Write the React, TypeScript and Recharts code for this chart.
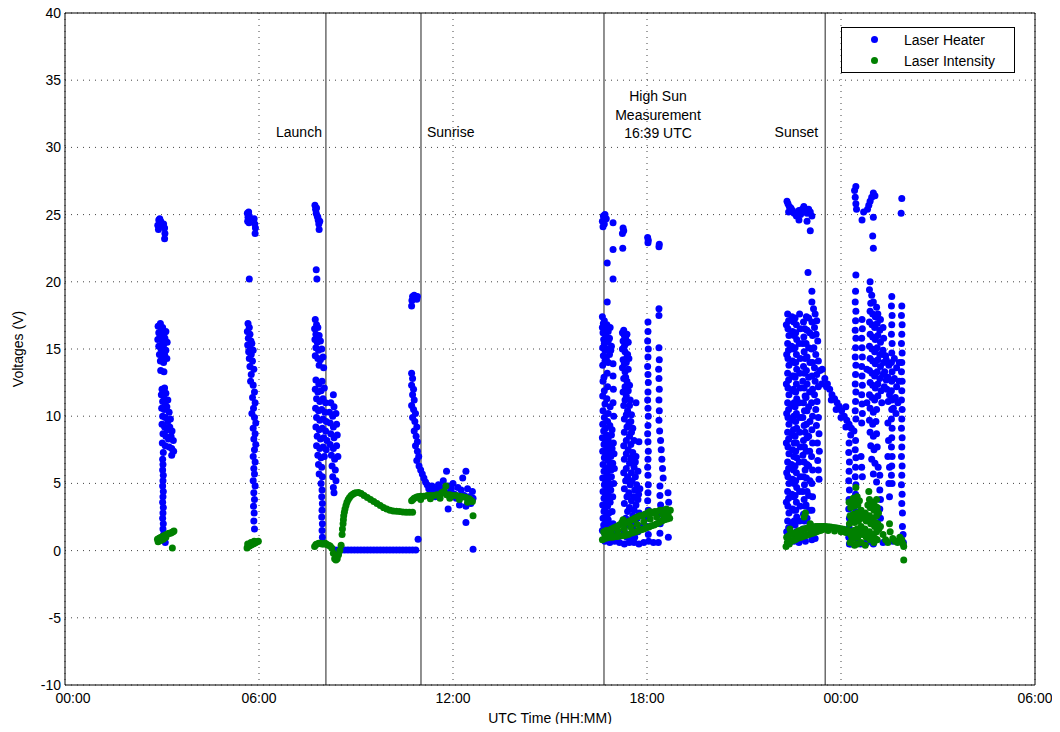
import React from 'react'
import {
  ScatterChart,
  Scatter,
  XAxis,
  YAxis,
  CartesianGrid,
  ReferenceLine,
  Legend
} from 'recharts'

const FONT = '"Liberation Sans", Arial, Helvetica, sans-serif'
const BLUE = '#0000ff'
const GREEN = '#008000'

// axis ticks (hours since 00:00 UTC, volts)
const xTicks = [0, 6, 12, 18, 24, 30]
const yTicks = [-10, -5, 0, 5, 10, 15, 20, 25, 30, 35, 40]

// event markers
const eventTimes = [8.07, 11.01, 16.67, 23.51]
const eventNames = [['Launch'], ['Sunrise'], ['High Sun', 'Measurement', '16:39 UTC'], ['Sunset']]

// Laser Heater samples [hour, volts]
const heaterPass1: [number, number][] = [
  [2.87, 24.2], [2.9, 24.6], [2.93, 24.7], [2.96, 24.5], [2.98, 24.2], [2.89, 23.9], [3.05, 24.3], [3.08, 24.0], [3.09, 23.6], [3.08, 23.2],
  [2.88, 16.7], [2.95, 16.9], [3.02, 16.6], [2.9, 16.2], [2.98, 16.4], [3.06, 16.1], [3.12, 16.3], [2.87, 15.7], [2.94, 15.9], [3.01, 15.6],
  [3.09, 15.8], [3.16, 15.5], [2.9, 15.2], [2.97, 15.0], [3.05, 15.3], [3.12, 14.9], [2.92, 14.6], [3.0, 14.4], [3.08, 14.6], [3.15, 14.3],
  [2.95, 14.1], [3.05, 14.0], [2.96, 13.4], [3.06, 13.3],
  [3.0, 12.0], [3.08, 12.1], [2.98, 11.6], [3.05, 11.5], [3.12, 11.7], [3.02, 11.1], [3.1, 11.0], [3.18, 11.2], [2.99, 10.6], [3.07, 10.5],
  [3.15, 10.7], [3.22, 10.3], [3.02, 10.0], [3.1, 9.9], [3.18, 9.6], [3.26, 9.8], [3.0, 9.4], [3.08, 9.2], [3.16, 9.0], [3.24, 9.2],
  [3.31, 8.9], [3.03, 8.7], [3.12, 8.5], [3.2, 8.3], [3.28, 8.5], [3.35, 8.2], [3.01, 8.0], [3.1, 7.8], [3.22, 7.7], [3.3, 7.6],
  [3.36, 7.4], [3.04, 7.3], [3.3, 7.1], [3.02, 6.8],
  [3.03, 6.4], [3.02, 6.0], [3.04, 5.6], [3.03, 5.2], [3.02, 4.8], [3.04, 4.4], [3.03, 4.0], [3.02, 3.6], [3.04, 3.2], [3.03, 2.8],
  [3.02, 2.4], [3.04, 2.0], [3.03, 1.6], [3.05, 1.2], [3.08, 0.8], [3.1, 0.6]
]

const heaterPass2: [number, number][] = [
  [5.64, 25.1], [5.66, 24.8], [5.68, 25.2], [5.7, 24.9], [5.65, 24.5], [5.69, 24.4], [5.85, 24.7], [5.87, 24.3], [5.89, 24.0], [5.88, 23.6],
  [5.7, 20.2],
  [5.66, 16.9], [5.7, 16.6], [5.64, 16.3], [5.72, 16.1], [5.67, 15.8], [5.75, 15.6], [5.65, 15.3], [5.72, 15.1], [5.78, 15.4], [5.68, 14.8],
  [5.76, 14.6], [5.82, 14.9], [5.7, 14.3], [5.8, 14.1], [5.72, 13.7], [5.84, 13.5], [5.76, 13.1],
  [5.74, 12.6], [5.82, 12.3], [5.86, 11.8], [5.8, 11.4], [5.88, 11.0], [5.83, 10.6], [5.78, 10.2], [5.86, 9.9], [5.9, 9.5], [5.82, 9.1],
  [5.88, 8.7], [5.84, 8.3], [5.9, 7.9], [5.86, 7.5], [5.82, 7.0], [5.88, 6.6], [5.84, 6.1], [5.86, 5.7], [5.82, 5.2], [5.88, 4.8],
  [5.84, 4.3], [5.86, 3.8], [5.83, 3.3], [5.85, 2.8], [5.84, 2.2], [5.86, 1.6]
]

const heaterLaunch: [number, number][] = [
  [7.73, 25.7], [7.75, 25.4], [7.78, 25.5], [7.77, 25.1], [7.8, 24.9], [7.83, 24.6], [7.85, 24.3], [7.86, 23.9], [7.82, 24.8], [7.88, 24.5],
  [7.77, 20.9], [7.79, 20.2],
  [7.74, 17.2], [7.78, 16.8], [7.72, 16.5], [7.82, 16.6], [7.76, 16.1], [7.86, 16.0], [7.73, 15.7], [7.8, 15.5], [7.9, 15.6], [7.76, 15.1],
  [7.84, 14.9], [7.94, 15.0], [7.74, 14.5], [7.82, 14.3], [7.9, 14.2], [7.98, 14.4], [7.86, 13.8], [8.0, 13.6],
  [7.76, 12.7], [7.85, 12.4], [7.95, 12.6], [7.74, 12.0], [7.82, 11.8], [7.92, 11.9], [8.02, 12.1], [7.78, 11.3], [7.88, 11.1], [7.98, 11.3],
  [8.06, 11.0], [7.75, 10.6], [7.84, 10.4], [7.94, 10.5], [8.04, 10.3], [7.78, 9.9], [7.88, 9.7], [7.98, 9.8], [8.08, 9.6], [7.76, 9.2],
  [7.86, 9.0], [7.96, 9.1], [8.06, 8.9], [7.8, 8.5], [7.9, 8.3], [8.0, 8.4], [8.1, 8.2], [7.78, 7.8], [7.88, 7.6], [7.98, 7.7],
  [8.08, 7.5], [7.82, 7.1], [7.92, 6.9], [8.02, 7.0], [7.84, 6.4], [7.94, 6.2], [7.86, 5.7], [7.96, 5.5], [7.92, 5.0],
  [7.95, 4.5], [7.94, 4.0], [7.96, 3.5], [7.95, 3.0], [7.94, 2.5], [7.96, 2.0], [7.95, 1.5], [7.96, 1.0], [7.97, 0.6],
  [8.3, 11.6], [8.22, 11.0], [8.32, 10.7], [8.18, 10.3], [8.28, 10.0], [8.38, 10.2], [8.2, 9.5], [8.3, 9.2], [8.4, 9.4], [8.22, 8.7],
  [8.32, 8.4], [8.42, 8.6], [8.2, 7.9], [8.3, 7.6], [8.4, 7.8], [8.24, 7.1], [8.34, 6.8], [8.44, 7.0], [8.26, 6.3], [8.36, 6.0],
  [8.28, 5.5], [8.38, 5.2], [8.3, 4.7], [8.32, 4.3]
]

const heaterOff: [number, number][] = [
  [8.35, 0.05], [8.45, 0.05], [8.55, 0.05], [8.65, 0.05], [8.75, 0.05], [8.85, 0.05], [8.95, 0.05], [9.05, 0.05], [9.15, 0.05], [9.25, 0.05],
  [9.35, 0.05], [9.45, 0.05], [9.55, 0.05], [9.65, 0.05], [9.75, 0.05], [9.85, 0.05], [9.95, 0.05], [10.05, 0.05], [10.15, 0.05], [10.25, 0.05],
  [10.35, 0.05], [10.45, 0.05], [10.55, 0.05], [10.65, 0.05], [10.75, 0.05], [10.85, 0.05], [10.92, 0.85]
]

const heaterSunrise: [number, number][] = [
  [10.72, 18.2], [10.73, 18.6], [10.75, 18.9], [10.8, 19.0], [10.85, 18.9], [10.88, 18.7], [10.9, 18.9],
  [10.72, 13.2], [10.75, 12.8], [10.72, 12.3], [10.78, 12.0], [10.75, 11.6], [10.8, 11.2], [10.72, 10.8], [10.78, 10.5], [10.84, 10.2], [10.75, 9.9],
  [10.82, 9.6], [10.88, 9.2], [10.8, 8.9], [10.86, 8.5], [10.9, 8.1], [10.84, 7.8], [10.9, 7.4], [10.94, 7.0], [10.88, 6.7], [10.95, 6.3],
  [11.0, 6.0], [11.05, 5.7], [11.1, 5.4], [11.15, 5.1], [11.2, 4.9],
  [11.25, 4.6], [11.3, 4.2], [11.35, 4.8], [11.4, 4.4], [11.45, 4.0], [11.5, 4.6], [11.55, 4.9], [11.6, 4.3], [11.65, 4.7], [11.7, 5.2],
  [11.72, 4.5], [11.8, 5.9], [11.8, 4.3], [11.85, 3.1], [11.85, 4.8], [11.9, 4.1], [11.95, 4.6], [12.0, 5.0], [12.05, 4.2], [12.1, 3.9],
  [12.15, 4.7], [12.2, 3.4], [12.25, 4.5], [12.3, 5.4], [12.35, 4.1], [12.4, 5.9], [12.4, 3.3], [12.45, 4.6], [12.5, 4.0], [12.55, 3.5],
  [12.6, 4.4], [12.62, 3.9], [12.4, 2.1], [12.62, 0.1]
]

const heaterHighSun: [number, number][] = [
  [16.62, 24.5], [16.65, 24.9], [16.7, 25.0], [16.74, 24.7], [16.64, 24.1], [16.68, 24.3], [16.95, 24.4], [17.24, 23.6], [17.26, 24.0], [17.28, 23.8],
  [18.02, 23.3], [18.03, 22.9], [18.04, 23.1], [18.37, 22.6], [18.38, 22.8], [16.95, 22.4], [17.25, 22.5], [16.77, 21.4], [16.95, 20.2], [16.77, 18.5],
  [18.37, 18.0], [18.37, 17.5], [18.03, 17.0],
  [16.62, 17.4], [16.65, 16.9], [16.7, 16.6], [16.64, 16.2], [16.72, 16.0], [16.8, 16.3], [16.66, 15.7], [16.74, 15.5], [16.84, 15.8], [16.63, 15.1],
  [16.7, 14.9], [16.78, 15.0], [16.9, 15.2], [16.65, 14.5], [16.74, 14.3], [16.84, 14.6],
  [16.68, 17.1], [16.76, 16.8], [16.86, 16.6], [16.62, 16.6], [16.68, 15.4], [16.8, 15.6], [16.88, 14.9], [16.7, 14.1], [16.8, 14.0],
  [16.63, 13.8], [16.77, 13.2], [16.95, 13.9], [16.95, 13.0], [16.64, 12.6], [16.78, 12.2], [16.96, 12.0], [16.63, 11.5], [16.76, 11.3], [16.95, 11.0],
  [16.64, 10.4], [16.8, 10.2], [16.97, 10.0], [16.63, 9.4], [16.72, 9.1], [16.85, 9.3], [16.62, 8.4], [16.7, 8.0], [16.8, 8.3], [16.9, 8.6],
  [16.63, 7.4], [16.72, 7.1], [16.82, 7.3], [16.92, 7.6], [16.64, 6.4], [16.74, 6.1], [16.84, 6.3], [16.94, 6.5], [16.63, 5.4], [16.72, 5.1],
  [16.8, 5.3], [16.9, 5.5], [16.64, 4.4], [16.72, 4.1], [16.8, 4.3], [16.88, 4.5], [16.63, 3.4], [16.7, 3.1], [16.78, 3.3], [16.86, 3.6],
  [16.64, 2.4], [16.72, 2.1], [16.8, 2.3], [16.62, 1.5], [16.7, 1.2], [16.78, 1.4], [16.9, 1.0], [16.98, 1.3],
  [16.67, 12.9], [16.68, 11.9], [16.7, 10.9], [16.86, 10.7], [16.68, 9.9], [16.78, 9.6], [16.92, 9.0], [16.66, 8.9], [16.75, 8.6], [16.86, 7.9],
  [16.96, 8.0], [16.67, 7.9], [16.77, 7.6], [16.88, 7.0], [16.98, 7.2], [16.68, 6.9], [16.79, 6.7], [16.89, 6.0], [16.99, 6.1], [16.67, 5.9],
  [16.77, 5.7], [16.86, 4.9], [16.97, 5.0], [16.68, 4.9], [16.76, 4.7], [16.84, 3.9], [16.94, 4.0], [16.67, 3.9], [16.75, 3.7], [16.82, 2.8],
  [16.92, 2.9], [16.67, 2.9], [16.76, 2.6], [16.85, 1.9], [16.95, 2.0], [16.66, 1.9], [16.74, 1.7], [16.84, 1.2],
  [17.24, 16.2], [17.3, 16.0], [17.38, 16.1], [17.26, 15.6], [17.34, 15.4], [17.42, 15.5], [17.24, 15.0], [17.32, 14.8], [17.4, 14.6], [17.26, 14.2],
  [17.36, 14.0], [17.44, 14.3], [17.24, 13.6], [17.32, 13.3], [17.42, 13.5], [17.28, 12.8], [17.38, 12.6], [17.46, 12.3],
  [17.26, 11.8], [17.36, 11.5], [17.48, 11.2], [17.66, 11.0], [17.28, 10.8], [17.4, 10.4], [17.52, 10.1], [17.3, 9.8], [17.44, 9.5], [17.56, 9.1],
  [17.3, 8.8], [17.46, 8.5], [17.6, 8.2], [17.75, 8.1], [17.28, 7.8], [17.42, 7.5], [17.56, 7.3], [17.66, 7.0], [17.3, 6.8], [17.46, 6.5],
  [17.6, 6.2], [17.72, 5.9], [17.28, 5.8], [17.4, 5.5], [17.54, 5.2], [17.68, 4.9], [17.78, 4.6], [17.3, 4.6], [17.44, 4.3], [17.58, 4.0],
  [17.72, 3.8], [17.3, 3.5], [17.46, 3.2], [17.6, 3.0], [17.76, 2.8], [17.34, 2.4], [17.5, 2.2], [17.66, 2.0], [17.8, 1.8], [17.3, 1.4],
  [17.46, 1.2], [17.62, 1.0],
  [17.28, 16.4], [17.34, 15.8], [17.3, 15.2], [17.38, 14.4], [17.3, 13.9], [17.34, 12.9], [17.32, 12.2], [17.42, 11.9], [17.32, 11.2], [17.46, 10.8],
  [17.36, 10.1], [17.5, 9.6], [17.38, 9.2], [17.52, 8.8], [17.36, 8.2], [17.5, 7.9], [17.36, 7.2], [17.5, 6.9], [17.64, 6.6], [17.36, 6.1],
  [17.52, 5.8], [17.64, 5.5], [17.34, 5.2], [17.48, 4.9], [17.62, 4.5], [17.74, 4.2], [17.38, 4.0], [17.52, 3.7], [17.66, 3.4], [17.4, 2.9],
  [17.56, 2.6], [17.7, 2.4], [17.4, 1.9], [17.56, 1.6], [17.72, 1.4], [17.38, 1.0], [17.54, 0.8],
  [18.03, 16.3], [18.02, 15.6], [18.04, 15.0], [18.03, 14.4], [18.02, 13.7], [18.03, 13.1], [18.04, 12.5], [18.03, 11.8], [18.02, 11.2], [18.03, 10.6],
  [18.04, 10.0], [18.03, 9.3], [18.02, 8.7], [18.03, 8.1], [18.04, 7.4], [18.03, 6.8], [18.02, 6.2], [18.03, 5.6], [18.04, 4.9], [18.03, 4.3],
  [18.02, 3.7], [18.04, 3.0], [18.03, 2.4], [18.02, 1.8], [18.04, 1.2],
  [18.37, 15.1], [18.38, 14.2], [18.36, 13.5], [18.37, 12.8], [18.38, 12.0], [18.37, 11.2], [18.38, 10.4], [18.37, 9.7], [18.39, 8.9], [18.42, 8.2],
  [18.44, 7.5], [18.46, 6.8], [18.48, 6.1], [18.5, 5.4], [18.4, 4.8], [18.4, 4.1], [18.42, 3.4], [18.4, 2.7], [18.41, 2.0], [18.4, 1.3],
  [18.65, 4.3], [18.67, 3.6], [18.66, 1.0],
  [16.7, 0.7], [16.85, 0.6], [17.0, 0.7], [17.15, 0.6], [17.3, 0.5], [17.45, 0.6], [17.6, 0.6], [17.75, 0.5], [17.9, 0.6], [18.05, 0.7],
  [18.2, 0.6], [18.35, 0.6]
]

const heaterSunset: [number, number][] = [
  [22.33, 26.0], [22.36, 25.8], [22.4, 25.6], [22.45, 25.5], [22.5, 25.3], [22.38, 25.2], [22.55, 25.1], [22.62, 24.9], [22.7, 25.3], [22.75, 25.0],
  [22.8, 25.4], [22.85, 25.6], [22.9, 25.3], [22.95, 25.1], [23.0, 25.4], [23.05, 25.2], [23.1, 24.9], [22.7, 24.6], [22.95, 24.5], [23.05, 23.8],
  [22.98, 20.7], [23.1, 19.3], [23.1, 18.5],
  [22.35, 17.6], [22.38, 17.1], [22.36, 16.5], [22.39, 16.0], [22.35, 15.4], [22.38, 14.9], [22.36, 14.3], [22.39, 13.8], [22.35, 13.2], [22.38, 12.7],
  [22.36, 12.1], [22.39, 11.6], [22.35, 11.0], [22.38, 10.5], [22.36, 9.9], [22.39, 9.4], [22.35, 8.8], [22.38, 8.3], [22.36, 7.7], [22.39, 7.2],
  [22.35, 6.6], [22.38, 6.1], [22.36, 5.5], [22.39, 5.0], [22.35, 4.4], [22.38, 3.9], [22.36, 3.3], [22.39, 2.8], [22.35, 2.2], [22.38, 1.7],
  [22.36, 1.1],
  [22.31, 16.8], [22.32, 14.6], [22.31, 12.4], [22.32, 10.2], [22.31, 8.0], [22.32, 5.8], [22.31, 3.6], [22.32, 1.4],
  [22.58, 17.3], [22.62, 16.8], [22.6, 16.2], [22.63, 15.7], [22.58, 15.1], [22.62, 14.6], [22.6, 14.0], [22.63, 13.5], [22.58, 12.9], [22.62, 12.4],
  [22.6, 11.8], [22.63, 11.3], [22.58, 10.7], [22.62, 10.2], [22.6, 9.6], [22.63, 9.1], [22.58, 8.5], [22.62, 8.0], [22.6, 7.4], [22.63, 6.9],
  [22.58, 6.3], [22.62, 5.8], [22.6, 5.2], [22.63, 4.7], [22.58, 4.1], [22.62, 3.6], [22.6, 3.0], [22.63, 2.5], [22.58, 1.9], [22.62, 1.4],
  [22.6, 0.9],
  [22.84, 17.0], [22.88, 16.5], [22.85, 15.9], [22.82, 15.4], [22.86, 14.8], [22.89, 14.3], [22.84, 13.7], [22.87, 13.2], [22.82, 12.6], [22.86, 12.1],
  [22.89, 11.5], [22.84, 11.0], [22.87, 10.4], [22.82, 9.9], [22.86, 9.3], [22.89, 8.8], [22.84, 8.2], [22.87, 7.7], [22.82, 7.1], [22.86, 6.6],
  [22.89, 6.0], [22.84, 5.5], [22.87, 4.9], [22.82, 4.4], [22.86, 3.8], [22.89, 3.3], [22.84, 2.7], [22.87, 2.2], [22.82, 1.6], [22.86, 1.1],
  [23.15, 18.0], [23.2, 17.6], [23.25, 17.1], [23.18, 16.6], [23.23, 16.1], [23.28, 15.6], [23.16, 15.1], [23.22, 14.6], [23.3, 14.1], [23.18, 13.6],
  [23.25, 13.1], [23.35, 13.4], [23.42, 13.5], [23.2, 12.6], [23.3, 12.2], [23.4, 12.4], [23.18, 11.6], [23.26, 11.1], [23.22, 10.5], [23.3, 9.9],
  [23.24, 9.3], [23.32, 8.7], [23.27, 8.0], [23.33, 7.4], [23.28, 6.7], [23.3, 6.0], [23.32, 5.3],
  [22.48, 17.4], [22.5, 16.3], [22.47, 15.2], [22.5, 14.1], [22.48, 13.0], [22.5, 11.9], [22.47, 10.8], [22.5, 9.7], [22.48, 8.6], [22.5, 7.5],
  [22.47, 6.4], [22.5, 5.3], [22.48, 4.2], [22.5, 3.1], [22.48, 2.0],
  [22.54, 17.0], [22.55, 16.0], [22.53, 15.0], [22.55, 14.0], [22.54, 13.0], [22.53, 12.0], [22.55, 11.0], [22.54, 10.0], [22.53, 9.0], [22.55, 8.0],
  [22.54, 7.0], [22.53, 6.0], [22.55, 5.0], [22.54, 4.0], [22.53, 3.0], [22.55, 2.2],
  [22.72, 17.6], [22.74, 16.5], [22.71, 15.4], [22.74, 14.3], [22.72, 13.2], [22.74, 12.1], [22.71, 11.0], [22.74, 9.9], [22.72, 8.8], [22.74, 7.7],
  [22.71, 6.6], [22.74, 5.5], [22.72, 4.4], [22.74, 3.3], [22.72, 2.2],
  [22.93, 17.4], [22.95, 16.4], [22.92, 15.4], [22.95, 14.4], [22.93, 13.4], [22.95, 12.4], [22.92, 11.4], [22.95, 10.4], [22.93, 9.4], [22.95, 8.4],
  [22.92, 7.4], [22.95, 6.4], [22.93, 5.4], [22.95, 4.4], [22.92, 3.4], [22.95, 2.4],
  [23.0, 17.3], [23.03, 16.2], [23.0, 15.1], [23.04, 14.0], [23.0, 12.9], [23.03, 11.8], [23.0, 10.7], [23.04, 9.6], [23.0, 8.5], [23.03, 7.4],
  [23.0, 6.3], [23.04, 5.2], [23.0, 4.1], [23.03, 3.0], [23.05, 1.9],
  [23.1, 17.0], [23.12, 16.0], [23.09, 15.0], [23.12, 14.0], [23.1, 13.0], [23.12, 12.0], [23.09, 11.0], [23.12, 10.0], [23.1, 9.0], [23.12, 8.0],
  [23.09, 7.0], [23.12, 6.0], [23.1, 5.0], [23.12, 4.0], [23.1, 3.0],
  [22.4, 0.6], [22.55, 0.7], [22.7, 0.6], [22.9, 0.7], [23.1, 0.8], [23.2, 0.9]
]

const heaterNight: [number, number][] = [
  [23.5, 12.8], [23.58, 12.4], [23.65, 12.0], [23.72, 11.6], [23.8, 11.3], [23.88, 11.0], [23.95, 10.7], [24.02, 10.4], [24.1, 10.0], [24.18, 9.7],
  [24.25, 9.4], [24.32, 9.1], [24.4, 8.9], [23.55, 12.2], [23.7, 11.2], [23.85, 10.5], [24.0, 9.9], [24.15, 9.2], [24.3, 8.6], [24.15, 10.7],
  [24.46, 27.1], [24.42, 26.8], [24.44, 26.3], [24.46, 25.8], [24.48, 25.4], [24.65, 24.6], [24.7, 25.2], [24.86, 25.7], [24.9, 26.0], [24.95, 26.3],
  [25.0, 26.6], [25.05, 26.4], [24.82, 25.4], [25.0, 24.8], [24.98, 23.4], [25.0, 22.5], [25.88, 26.2], [25.86, 25.1],
  [24.46, 20.5], [24.45, 19.3], [24.44, 18.5], [24.46, 17.8], [24.45, 17.1], [24.44, 16.4], [24.46, 15.8], [24.45, 15.1], [24.44, 14.4], [24.46, 13.8],
  [24.45, 13.1], [24.44, 12.4], [24.46, 11.8], [24.45, 11.1], [24.44, 10.4], [24.46, 9.8], [24.45, 8.2], [24.44, 7.5], [24.46, 6.9], [24.45, 6.2],
  [24.44, 5.5], [24.46, 4.9], [24.45, 4.2], [24.44, 3.5], [24.46, 2.9], [24.45, 2.2], [24.44, 1.5], [24.46, 0.9],
  [24.25, 8.0], [24.24, 7.3], [24.26, 6.6], [24.25, 5.9], [24.24, 5.2], [24.26, 4.5], [24.25, 3.8], [24.24, 3.1], [24.26, 2.4], [24.25, 1.7],
  [24.24, 1.0], [24.26, 0.5],
  [24.65, 17.2], [24.66, 16.5], [24.64, 15.8], [24.65, 15.1], [24.66, 14.4], [24.64, 13.7], [24.65, 13.0], [24.66, 12.3], [24.64, 11.6], [24.65, 10.9],
  [24.66, 10.2], [24.64, 9.5], [24.62, 7.0], [24.64, 6.2], [24.66, 5.5], [24.8, 13.5], [24.8, 11.0],
  [24.9, 20.0], [24.88, 19.4], [24.95, 19.0], [24.92, 18.4], [25.0, 18.5], [25.1, 18.1], [24.9, 17.8], [24.98, 17.6], [25.06, 17.4], [25.14, 17.6],
  [25.22, 17.2], [24.88, 17.0], [24.96, 16.8], [25.04, 16.6], [25.12, 16.9], [25.2, 16.4], [25.3, 16.6], [24.9, 16.1], [24.98, 15.9], [25.06, 15.7],
  [25.14, 16.0], [25.22, 15.5], [25.32, 15.8], [24.88, 15.2], [24.96, 15.0], [25.04, 14.8], [25.12, 15.1], [25.2, 14.6], [25.3, 14.9], [25.38, 14.5],
  [24.9, 14.3], [24.98, 14.1], [25.06, 13.9], [25.14, 14.2], [25.22, 13.7], [25.32, 14.0], [24.88, 13.4], [24.96, 13.2], [25.04, 13.0], [25.12, 13.3],
  [25.2, 12.8], [25.3, 13.1], [25.4, 12.7], [24.9, 12.5], [24.98, 12.3], [25.06, 12.1], [25.14, 12.4], [25.24, 11.9], [25.34, 12.2], [24.88, 11.6],
  [24.96, 11.4], [25.04, 11.2], [25.14, 11.5], [25.26, 11.0], [24.9, 10.6], [25.0, 10.3], [25.1, 10.5], [24.88, 9.7], [24.98, 9.4], [25.08, 9.6],
  [24.9, 8.8], [25.0, 8.5], [25.1, 8.7], [24.92, 7.8], [25.02, 7.5], [25.12, 7.7], [24.95, 6.8], [25.05, 6.5], [25.15, 6.2], [25.0, 5.7],
  [25.1, 5.1], [25.2, 5.6], [25.2, 4.5], [25.22, 3.8], [25.2, 3.1], [25.22, 2.4],
  [25.57, 18.9], [25.56, 18.2], [25.58, 17.5], [25.57, 16.8], [25.56, 16.1], [25.58, 15.4], [25.57, 14.7], [25.56, 14.0], [25.58, 13.3], [25.57, 12.6],
  [25.56, 11.9], [25.58, 11.2], [25.57, 10.5], [25.56, 9.8], [25.58, 9.1], [25.57, 8.4], [25.56, 7.7], [25.58, 7.0], [25.57, 6.3], [25.56, 5.6],
  [25.58, 5.0],
  [25.88, 18.2], [25.87, 17.5], [25.89, 16.8], [25.88, 16.1], [25.87, 15.4], [25.89, 14.7], [25.88, 14.0], [25.87, 13.3], [25.89, 12.6], [25.88, 11.9],
  [25.87, 11.2], [25.89, 10.5], [25.88, 9.8], [25.87, 9.1], [25.89, 8.4], [25.88, 7.7], [25.87, 7.0], [25.89, 6.3], [25.88, 5.6], [25.87, 4.9],
  [25.89, 4.2], [25.88, 3.5], [25.9, 2.8], [25.9, 1.8], [25.92, 1.2], [25.93, 0.6],
  [25.3, 14.6], [25.4, 14.2], [25.48, 13.8], [25.65, 14.3], [25.72, 13.6], [25.8, 14.0], [25.35, 13.3], [25.45, 12.9], [25.65, 12.8], [25.72, 12.2],
  [25.8, 12.6], [25.42, 12.0], [25.5, 11.6], [25.68, 11.4], [25.76, 11.0], [25.46, 11.1], [25.62, 10.6], [25.7, 10.2],
  [25.45, 9.5], [25.47, 8.2], [25.45, 7.0], [25.5, 6.2], [25.48, 5.0], [25.5, 4.0],
  [24.3, 0.5], [24.6, 0.5], [24.8, 0.6], [25.0, 0.5], [25.3, 0.6], [25.6, 0.7]
]

// Laser Intensity samples [hour, volts]
const intensityPass1: [number, number][] = [
  [2.86, 0.85], [2.9, 0.9], [2.94, 0.95], [2.98, 1.0], [3.02, 1.05], [3.06, 1.1], [3.1, 1.15], [3.14, 1.2], [3.18, 1.25], [3.22, 1.3],
  [3.26, 1.3], [3.3, 1.35], [3.34, 1.4], [3.37, 1.45], [2.88, 0.65], [2.96, 0.75], [3.04, 0.85], [3.12, 1.0], [3.32, 0.2]
]

const intensityPass2: [number, number][] = [
  [5.63, 0.2], [5.66, 0.3], [5.7, 0.35], [5.74, 0.4], [5.78, 0.45], [5.82, 0.5], [5.86, 0.55], [5.9, 0.6], [5.94, 0.65], [5.98, 0.7],
  [5.65, 0.5], [5.75, 0.6], [5.85, 0.7]
]

const intensityLaunch: [number, number][] = [
  [7.72, 0.3], [7.76, 0.45], [7.8, 0.5], [7.85, 0.55], [7.9, 0.55], [7.95, 0.5], [8.0, 0.5], [8.05, 0.55], [8.1, 0.45], [8.15, 0.4],
  [8.2, 0.35], [8.25, 0.2], [8.3, -0.2], [8.34, -0.6], [8.38, -0.7], [8.42, -0.6], [8.46, -0.3], [8.5, 0.0], [8.54, 0.4], [8.57, 1.2],
  [8.6, 2.0], [8.62, 2.6], [8.66, 3.1], [8.72, 3.6], [8.8, 3.95], [8.9, 4.2], [9.0, 4.3], [9.08, 4.32], [9.16, 4.25], [9.25, 4.1],
  [8.58, 1.6], [8.61, 2.3], [8.64, 2.85], [8.69, 3.35], [8.76, 3.8], [8.85, 4.1], [8.95, 4.27],
  [9.35, 3.95], [9.45, 3.8], [9.55, 3.65], [9.65, 3.5], [9.75, 3.35], [9.85, 3.2], [9.95, 3.1], [10.05, 3.0], [10.15, 2.95], [10.25, 2.92],
  [10.35, 2.9], [10.45, 2.88], [10.55, 2.86], [10.65, 2.85], [10.75, 2.85]
]

const intensitySunrise: [number, number][] = [
  [10.72, 3.7], [10.76, 3.8], [10.8, 3.9], [10.85, 3.95], [10.9, 4.0], [10.95, 4.0], [11.0, 4.05], [11.1, 4.05], [11.2, 4.1], [11.3, 4.1],
  [11.4, 4.1], [11.5, 4.15], [11.6, 4.15], [11.65, 4.3], [11.72, 4.4], [11.78, 4.8], [11.8, 4.15], [11.9, 4.15], [12.0, 4.1], [12.1, 4.1],
  [12.2, 4.05], [12.3, 4.0], [12.4, 3.95], [12.5, 3.85], [12.55, 3.75], [12.6, 3.65], [12.62, 2.6],
  [11.0, 3.8], [11.3, 3.85], [11.6, 3.9], [11.9, 3.9], [12.2, 3.8], [12.45, 3.6]
]

const intensityHighSun: [number, number][] = [
  [16.62, 0.8], [16.7, 0.9], [16.78, 0.95], [16.86, 1.0], [16.94, 1.0], [17.02, 1.05], [17.1, 1.05], [17.18, 1.1], [17.26, 1.1], [17.34, 1.15],
  [17.42, 1.2], [17.5, 1.3], [17.58, 1.35], [17.66, 1.4], [17.74, 1.5], [17.82, 1.55], [17.9, 1.6], [17.98, 1.7], [18.06, 1.75], [18.14, 1.85],
  [18.22, 1.9], [18.3, 2.0], [18.38, 2.1], [18.46, 2.2], [18.54, 2.3], [18.62, 2.35], [18.7, 2.4],
  [16.66, 1.4], [16.74, 1.5], [16.82, 1.5], [16.9, 1.6], [16.98, 1.7], [17.06, 1.8], [17.14, 1.9], [17.22, 2.1], [17.26, 2.3], [17.3, 2.0],
  [17.38, 2.1], [17.46, 2.2], [17.54, 2.3], [17.62, 2.4], [17.7, 2.5], [17.78, 2.6], [17.86, 2.6], [17.94, 2.7], [18.02, 2.8], [18.08, 2.9],
  [18.16, 2.8], [18.24, 2.9], [18.32, 2.9], [18.4, 3.0], [18.5, 3.0], [18.6, 3.1], [18.72, 3.0],
  [16.7, 1.2], [16.9, 1.3], [17.1, 1.5], [17.3, 1.6], [17.5, 1.75], [17.7, 1.95], [17.9, 2.15], [18.1, 2.35], [18.3, 2.5], [18.5, 2.65],
  [18.65, 2.7]
]

const intensitySunset: [number, number][] = [
  [22.32, 1.0], [22.38, 1.1], [22.44, 1.2], [22.5, 1.25], [22.56, 1.3], [22.62, 1.35], [22.68, 1.45], [22.74, 1.5], [22.8, 1.55], [22.86, 1.6],
  [22.92, 1.65], [22.98, 1.7], [23.04, 1.7], [23.1, 1.75], [23.16, 1.75], [23.22, 1.8], [23.28, 1.8], [23.34, 1.8], [23.4, 1.8], [23.46, 1.8],
  [22.3, 0.3], [22.34, 0.6], [22.4, 0.5], [22.46, 0.7], [22.52, 0.75], [22.58, 0.8], [22.64, 0.9], [22.7, 0.95], [22.76, 1.0], [22.82, 1.05],
  [22.88, 1.1], [22.94, 1.15], [23.0, 1.2], [23.06, 1.25], [23.12, 1.3], [23.18, 1.35], [23.24, 1.4], [23.3, 1.45], [23.36, 1.5], [23.42, 1.55],
  [22.86, 2.5], [22.9, 2.8], [22.42, 1.6], [23.05, 2.0],
  [23.52, 1.8], [23.6, 1.78], [23.68, 1.75], [23.76, 1.72], [23.84, 1.7], [23.92, 1.66], [24.0, 1.62], [24.08, 1.58], [24.16, 1.54], [24.22, 1.5],
  [23.6, 1.5], [23.8, 1.45], [24.0, 1.4], [24.15, 1.35],
  [24.25, 3.6], [24.3, 3.2], [24.28, 2.6], [24.26, 2.0], [24.3, 1.2], [24.28, 0.6],
  [24.38, 3.9], [24.4, 3.3], [24.38, 2.7], [24.42, 2.1], [24.4, 1.5], [24.38, 0.9], [24.42, 0.4],
  [24.46, 4.7], [24.5, 4.0], [24.52, 3.4], [24.5, 2.8], [24.54, 2.2], [24.5, 1.6], [24.52, 1.0], [24.5, 0.5],
  [24.62, 3.0], [24.65, 2.4], [24.62, 1.8], [24.66, 1.2], [24.62, 0.6],
  [24.75, 2.8], [24.78, 2.2], [24.74, 1.6], [24.78, 1.0], [24.75, 0.4],
  [24.86, 4.4], [24.88, 3.8], [24.9, 3.2], [24.88, 2.6], [24.92, 2.0], [24.88, 1.4], [24.9, 0.8],
  [25.0, 3.6], [25.02, 3.0], [25.0, 2.4], [25.04, 1.8], [25.0, 1.2], [25.02, 0.6],
  [25.1, 3.8], [25.12, 3.2], [25.1, 2.6], [25.14, 2.0], [25.1, 1.4], [25.12, 0.8],
  [24.33, 3.5], [24.33, 2.3], [24.34, 1.0], [24.44, 3.6], [24.46, 2.4], [24.45, 1.2], [24.57, 3.7], [24.58, 2.6], [24.58, 1.4], [24.7, 2.6],
  [24.7, 1.4], [24.83, 3.4], [24.82, 2.3], [24.83, 1.1], [24.95, 3.4], [24.96, 2.2], [24.96, 1.0], [25.06, 3.3], [25.06, 2.1], [25.06, 0.9],
  [25.16, 2.8], [25.17, 1.6],
  [25.22, 1.8], [25.3, 1.2], [25.38, 0.8], [25.45, 0.6], [25.5, 2.0], [25.52, 1.4], [25.6, 0.9], [25.68, 0.7], [25.75, 0.6], [25.82, 1.0],
  [25.88, 0.8], [25.92, 0.5], [25.94, 0.3], [25.94, -0.7]
]

const toPoints = (rows: [number, number][]) => rows.map(([x, y]) => ({ x, y }))

const heaterData = toPoints([
  ...heaterPass1, ...heaterPass2, ...heaterLaunch, ...heaterOff,
  ...heaterSunrise, ...heaterHighSun, ...heaterSunset, ...heaterNight
])
const intensityData = toPoints([
  ...intensityPass1, ...intensityPass2, ...intensityLaunch, ...intensitySunrise,
  ...intensityHighSun, ...intensitySunset
])

const fmtTime = (h: number) => `${String(h % 24).padStart(2, '0')}:00`

const dot = (color: string) => (props: any) => (
  <circle cx={props.cx} cy={props.cy} r={3.5} fill={color} />
)

// x tick label; the first one sits a little right of its tick, clear of "-10"
function TimeTick(props: any) {
  const { x, y, payload } = props
  const shift = payload.value === 0 ? 8 : 0
  return (
    <text x={x + shift} y={y} dy="0.8em" textAnchor="middle" fontSize={14} fontFamily={FONT} fill="#000">
      {fmtTime(payload.value)}
    </text>
  )
}

// label placement per event line (style only)
const labelStyle = [
  { tAnchor: 'end', tdx: -4, ty: 137 },
  { tAnchor: 'start', tdx: 6, ty: 137 },
  { tAnchor: 'middle', tdx: 54, ty: 101 },
  { tAnchor: 'end', tdx: -7, ty: 137 }
]

function EventLabel(props: any) {
  const { viewBox, lines, tAnchor, tdx, ty } = props
  const x = (viewBox?.x ?? 0) + tdx
  return (
    <text x={x} y={ty} textAnchor={tAnchor} fontSize={14} fontFamily={FONT} fill="#000">
      {lines.map((l: string, i: number) => (
        <tspan key={i} x={x} dy={i === 0 ? 0 : 18.5}>{l}</tspan>
      ))}
    </text>
  )
}

function LegendBox() {
  const row = (color: string, text: string, top: number) => (
    <div style={{ position: 'absolute', top, left: 0, height: 20, width: '100%' }}>
      <span style={{
        position: 'absolute', left: 29, top: 6, width: 7, height: 7,
        borderRadius: '50%', background: color
      }} />
      <span style={{ position: 'absolute', left: 62, top: 1, lineHeight: '18px' }}>{text}</span>
    </div>
  )
  return (
    <div style={{
      position: 'relative', width: 172, height: 44, border: '1px solid #000',
      background: '#fff', fontFamily: FONT, fontSize: 14, color: '#000'
    }}>
      {row(BLUE, 'Laser Heater', 2)}
      {row(GREEN, 'Laser Intensity', 23)}
    </div>
  )
}

export default function App() {
  const axisLine = { stroke: '#000', strokeWidth: 1 }
  const tickFont = { fontSize: 14, fontFamily: FONT, fill: '#000' }
  return (
    <div style={{ margin: -8, width: 1060, height: 732, background: '#fff' }}>
      <ScatterChart width={1060} height={732} margin={{ top: 13, right: 25, bottom: 0, left: 0 }}>
        <CartesianGrid stroke="#444" strokeDasharray="1 5" />
        <XAxis
          type="number"
          dataKey="x"
          domain={[0, 30]}
          ticks={xTicks}
          height={47}
          tick={<TimeTick />}
          tickLine={false}
          tickSize={0}
          tickMargin={7}
          axisLine={axisLine}
          label={() => (
            <text x={550} y={723} textAnchor="middle" fontSize={14} fontFamily={FONT} fill="#000">
              UTC Time (HH:MM)
            </text>
          )}
        />
        <XAxis xAxisId="top" orientation="top" mirror type="number" domain={[0, 30]} ticks={xTicks}
          tick={false} tickSize={6} tickLine={{ stroke: '#000' }} axisLine={axisLine} />
        <XAxis xAxisId="inner" orientation="bottom" mirror type="number" domain={[0, 30]} ticks={xTicks}
          tick={false} tickSize={6} tickLine={{ stroke: '#000' }} axisLine={false} />
        <YAxis
          type="number"
          dataKey="y"
          domain={[-10, 40]}
          ticks={yTicks}
          width={65}
          tick={tickFont}
          tickLine={false}
          tickSize={0}
          tickMargin={4}
          axisLine={axisLine}
          label={() => (
            <text x={23} y={349} transform="rotate(-90 23 349)" textAnchor="middle"
              fontSize={14} fontFamily={FONT} fill="#000">
              Voltages (V)
            </text>
          )}
        />
        <YAxis yAxisId="right" orientation="right" mirror type="number" domain={[-10, 40]} ticks={yTicks}
          tick={false} tickSize={6} tickLine={{ stroke: '#000' }} axisLine={axisLine} />
        <YAxis yAxisId="inner" orientation="left" mirror type="number" domain={[-10, 40]} ticks={yTicks}
          tick={false} tickSize={6} tickLine={{ stroke: '#000' }} axisLine={false} />
        <Scatter name="Laser Heater" data={heaterData} fill={BLUE} shape={dot(BLUE)} isAnimationActive={false} />
        <Scatter name="Laser Intensity" data={intensityData} fill={GREEN} shape={dot(GREEN)} isAnimationActive={false} />
        {eventTimes.map((t, i) => (
          <ReferenceLine
            key={t}
            x={t}
            stroke="#222"
            strokeWidth={1}
            label={<EventLabel lines={eventNames[i]} {...labelStyle[i]} />}
          />
        ))}
        <Legend
          layout="horizontal"
          verticalAlign="middle"
          align="center"
          wrapperStyle={{ position: 'absolute', top: 27, left: 841, width: 174, height: 46 }}
          content={() => <LegendBox />}
        />
      </ScatterChart>
    </div>
  )
}
